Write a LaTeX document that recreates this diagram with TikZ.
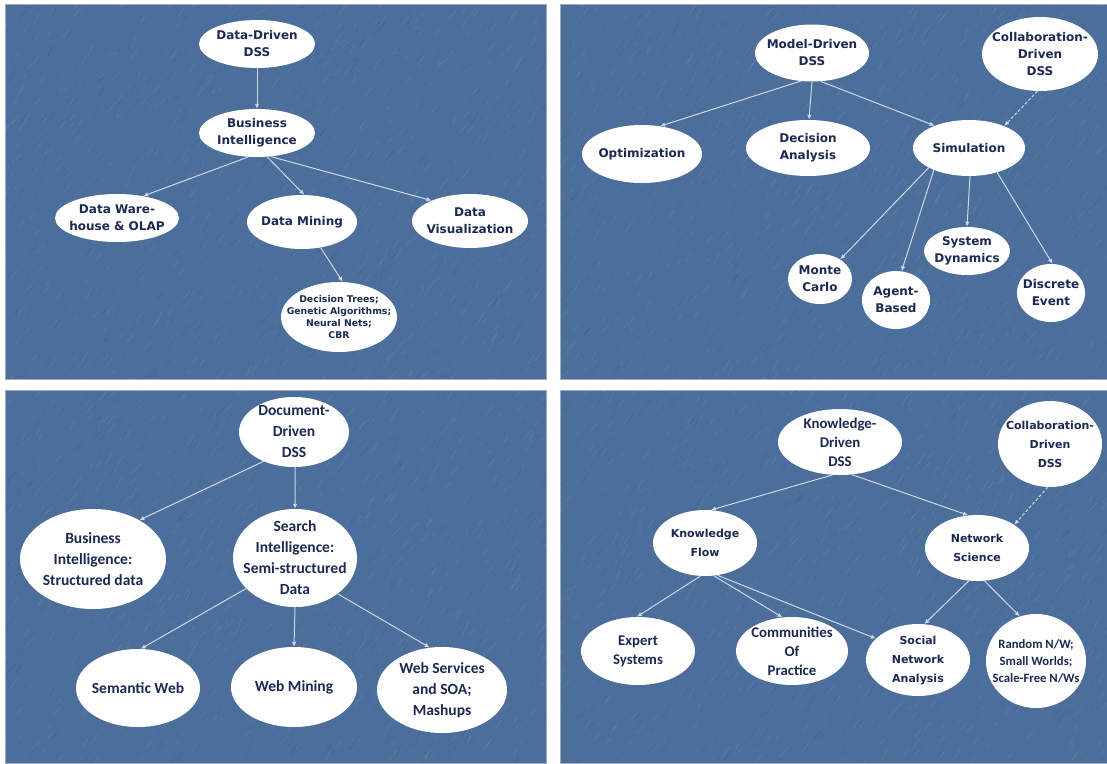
\documentclass[tikz,border=0pt]{standalone}
\usepackage{fontspec}
\usetikzlibrary{shapes.geometric,arrows.meta}
\newfontfamily\vsans{DejaVu Sans}
\newfontfamily\csans{Carlito}
\definecolor{panelblue}{RGB}{76,110,155}
\definecolor{paneledge}{RGB}{160,172,190}
\definecolor{inkblue}{RGB}{28,42,82}
\definecolor{linkgray}{RGB}{205,215,230}
\begin{document}
\begin{tikzpicture}[x=1pt,y=-1pt,
  panel/.style={fill=panelblue, draw=paneledge, line width=0.6pt},
  bub/.style n args={4}{ellipse, fill=white, inner sep=0pt,
    minimum width=#1, minimum height=#2, label={[#3]center:{#4}}},
  lbl/.style={align=center, text=inkblue, inner sep=0pt},
  tv/.style={lbl, font=\vsans\bfseries\fontsize{12}{17}\selectfont},
  ts/.style={lbl, font=\vsans\bfseries\fontsize{9.3}{12}\selectfont},
  tc/.style={lbl, font=\csans\bfseries\fontsize{15.5}{21}\selectfont},
  bv/.style={lbl, font=\vsans\bfseries\fontsize{11}{19}\selectfont},
  bc/.style={lbl, font=\csans\bfseries\fontsize{14.8}{19}\selectfont},
  bcs/.style={lbl, font=\csans\bfseries\fontsize{12.7}{17}\selectfont},
  link/.style={draw=linkgray, line width=1pt, -{Latex[length=5pt,width=4.5pt]}},
  dlink/.style={link, dash pattern=on 3pt off 2pt}]

\useasboundingbox (0,0) rectangle (1107,763);
\fill[white] (0,0) rectangle (1107,763);

% the four panels
\draw[panel] (5,4) rectangle (546,379);
\draw[panel] (560,4) rectangle (1107,379);
\draw[panel] (5,390) rectangle (546,763);
\draw[panel] (560,390) rectangle (1107,763);

% faint diagonal streaks of the water texture
\begin{scope}
  \clip (5,4) rectangle (546,379) (560,4) rectangle (1107,379)
        (5,390) rectangle (546,763) (560,390) rectangle (1107,763);
  \pgfmathsetseed{4711}
  \foreach \i in {1,...,2200}{
    \pgfmathsetmacro\px{rnd*1107}
    \pgfmathsetmacro\py{rnd*763}
    \pgfmathsetmacro\ln{3+rnd*10}
    \pgfmathsetmacro\an{45+rnd*20}
    \draw[white, opacity=0.07, line width=0.9pt, line cap=round]
      (\px,\py) -- ++(\an:\ln pt);
  }
  \foreach \i in {1,...,1500}{
    \pgfmathsetmacro\px{rnd*1107}
    \pgfmathsetmacro\py{rnd*763}
    \pgfmathsetmacro\ln{3+rnd*10}
    \pgfmathsetmacro\an{45+rnd*20}
    \draw[black, opacity=0.05, line width=0.9pt, line cap=round]
      (\px,\py) -- ++(\an:\ln pt);
  }
\end{scope}

% ---------- Data-driven DSS ----------
\node[bub={116pt}{48pt}{tv}{Data-Driven\\DSS}] (ddss) at (257,44) {};
\node[bub={116pt}{48pt}{tv}{Business\\Intelligence}] (bi) at (257,133) {};
\node[bub={124pt}{48pt}{tv}{Data Ware-\\house \& OLAP}] (dw) at (117,218) {};
\node[bub={110pt}{54pt}{tv}{Data Mining}] (dm) at (302,222) {};
\node[bub={116pt}{54pt}{tv}{Data\\Visualization}] (dv) at (470,221) {};
\node[bub={116pt}{70pt}{ts}{Decision Trees;\\Genetic Algorithms;\\Neural Nets;\\CBR}] (dt) at (339,317) {};

\draw[link] (ddss.south) -- (bi.north);
\draw[link] (bi.250) -- (dw.40);
\draw[link] (bi.293) -- (dm.85);
\draw[link] (bi.300) -- (dv.152);
\draw[link] (dm.306) -- (dt.84);

% ---------- Model-driven DSS ----------
\node[bub={114pt}{57pt}{tv}{Model-Driven\\DSS}] (md) at (812,53) {};
\node[bub={116pt}{74pt}{tv}{Collaboration-\\Driven\\DSS}] (col) at (1040,54) {};
\node[bub={120pt}{58pt}{tv}{Optimization}] (opt) at (642,154) {};
\node[bub={124pt}{56pt}{tv}{Decision\\Analysis}] (da) at (808,148) {};
\node[bub={112pt}{56pt}{tv}{Simulation}] (sim) at (969,148) {};
\node[bub={64pt}{50pt}{tv}{Monte\\Carlo}] (mc) at (820,279) {};
\node[bub={68pt}{58pt}{tv}{Agent-\\Based}] (ab) at (896,300) {};
\node[bub={86pt}{48pt}{tv}{System\\Dynamics}] (sd) at (967,251) {};
\node[bub={68pt}{58pt}{tv}{Discrete\\Event}] (de) at (1051,293) {};

\draw[link] (md.248) -- (opt.57);
\draw[link] (md.270) -- (da.88);
\draw[link] (md.287) -- (sim.147);
\draw[dlink] (col.266) -- (sim.32);
\draw[link] (sim.206) -- (mc.44);
\draw[link] (sim.212) -- (ab.79);
\draw[link] (sim.272) -- (sd.90);
\draw[link] (sim.319) -- (de.87);

% ---------- Document-driven DSS ----------
\node[bub={110pt}{70pt}{tc}{Document-\\Driven\\DSS}] (ddoc) at (294,432) {};
\node[bub={146pt}{100pt}{tc}{Business\\Intelligence:\\Structured data}] (bis) at (93,559) {};
\node[bub={124pt}{98pt}{tc}{Search\\Intelligence:\\Semi-structured\\Data}] (si) at (295,558) {};
\node[bub={124pt}{78pt}{tc}{Semantic Web}] (sw) at (138,688) {};
\node[bub={126pt}{80pt}{tc}{Web Mining}] (wm) at (294,687) {};
\node[bub={130pt}{86pt}{tc}{Web Services\\and SOA;\\Mashups}] (ws) at (442,690) {};

\draw[link] (ddoc.224) -- (bis.40);
\draw[link] (ddoc.272) -- (si.90);
\draw[link] (si.212) -- (sw.86);
\draw[link] (si.270) -- (wm.90);
\draw[link] (si.320) -- (ws.106);

% ---------- Knowledge-driven DSS ----------
\node[bub={124pt}{66pt}{bc}{Knowledge-\\Driven\\DSS}] (kd) at (840,442) {};
\node[bub={104pt}{86pt}{bv}{Collaboration-\\Driven\\DSS}] (col2) at (1050,444) {};
\node[bub={104pt}{66pt}{bv}{Knowledge\\Flow}] (kf) at (705,543) {};
\node[bub={104pt}{66pt}{bv}{Network\\Science}] (ns) at (977,548) {};
\node[bub={114pt}{68pt}{bc}{Expert\\Systems}] (es) at (638,651) {};
\node[bub={112pt}{68pt}{bc}{Communities\\Of\\Practice}] (cop) at (792,651) {};
\node[bub={104pt}{72pt}{bv}{Social\\Network\\Analysis}] (sna) at (918,660) {};
\node[bub={100pt}{94pt}{bcs}{Random N/W;\\Small Worlds;\\Scale-Free N/Ws}] (rnd) at (1036,661) {};

\draw[link] (kd.257) -- (kf.80);
\draw[link] (kd.290) -- (ns.105);
\draw[dlink] (col2.267) -- (ns.32);
\draw[link] (kf.262) -- (es.92);
\draw[link] (kf.285) -- (cop.106);
\draw[link] (kf.291) -- (sna.153);
\draw[link] (ns.256) -- (sna.80);
\draw[link] (ns.283) -- (rnd.110);

\end{tikzpicture}
\end{document}
